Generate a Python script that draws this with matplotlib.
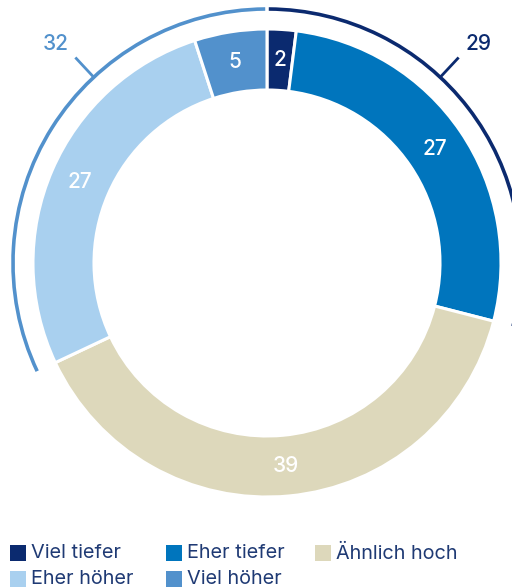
import matplotlib
matplotlib.use("Agg")
import matplotlib.pyplot as plt
from matplotlib.patches import Wedge, Rectangle
import numpy as np

plt.rcParams['font.family'] = ['Inter', 'DejaVu Sans']

categories = ["Viel tiefer", "Eher tiefer", "Ähnlich hoch", "Eher höher", "Viel höher"]
values = [2, 27, 39, 27, 5]
colors = ["#0b2a6f", "#0075bd", "#ddd8bb", "#a9d0ef", "#5291cc"]
lower_total = 29   # Viel tiefer + Eher tiefer
higher_total = 32  # Eher höher + Viel höher

W, H = 512, 587
fig = plt.figure(figsize=(W / 100, H / 100), dpi=100)
ax = fig.add_axes([0, 0, 1, 1])

cx, cy = 267, H - 263
R, width = 234, 61

wedges, _ = ax.pie(values, radius=R, center=(cx, cy), startangle=90,
                   counterclock=False, colors=colors,
                   wedgeprops=dict(width=width, edgecolor="white", linewidth=2.2))

# value labels
total = sum(values)
cum = 0
rm = R - width / 2
for v in values:
    mid = (cum + v / 2) / total * 360
    th = np.deg2rad(90 - mid)
    ax.text(cx + rm * np.cos(th), cy + rm * np.sin(th), str(v), color="white",
            fontsize=15, fontweight="medium", ha="center", va="center")
    cum += v

# outer arcs
ra = 254
right_end = 90 - lower_total / total * 360
left_end = 90 + higher_total / total * 360
ax.add_patch(Wedge((cx, cy), ra + 1.8, right_end, 89.6, width=3.6,
                   facecolor="#0b2a6f", edgecolor="none"))
ax.add_patch(Wedge((cx, cy), ra + 1.8, 90.4, left_end, width=3.6,
                   facecolor="#5291cc", edgecolor="none"))

# ticks and totals
for sign, val, col in [(1, lower_total, "#0b2a6f"), (-1, higher_total, "#5291cc")]:
    th = np.deg2rad(90 - sign * 43)
    ax.plot([cx + ra * np.cos(th), cx + 281 * np.cos(th)],
            [cy + ra * np.sin(th), cy + 281 * np.sin(th)], color=col, lw=2,
            solid_capstyle="butt")
    th2 = np.deg2rad(90 - sign * 44)
    ax.text(cx + 304 * np.cos(th2), cy + 304 * np.sin(th2), str(val), color=col,
            fontsize=15, fontweight="medium", ha="center", va="center")

# legend
legend_pos = [(10, 545), (166, 545), (315, 545), (10, 571), (166, 571)]
for (lx, ly), cat, col in zip(legend_pos, categories, colors):
    ax.add_patch(Rectangle((lx, H - ly - 16), 16, 16, facecolor=col, edgecolor="none"))
    ax.text(lx + 21, H - ly - 8.5, cat, color="#1f3a74", fontsize=14.3,
            ha="left", va="center")

ax.set_xlim(0, W)
ax.set_ylim(0, H)
ax.set_aspect("equal")
ax.axis("off")
fig.savefig("out.png", dpi=100)
